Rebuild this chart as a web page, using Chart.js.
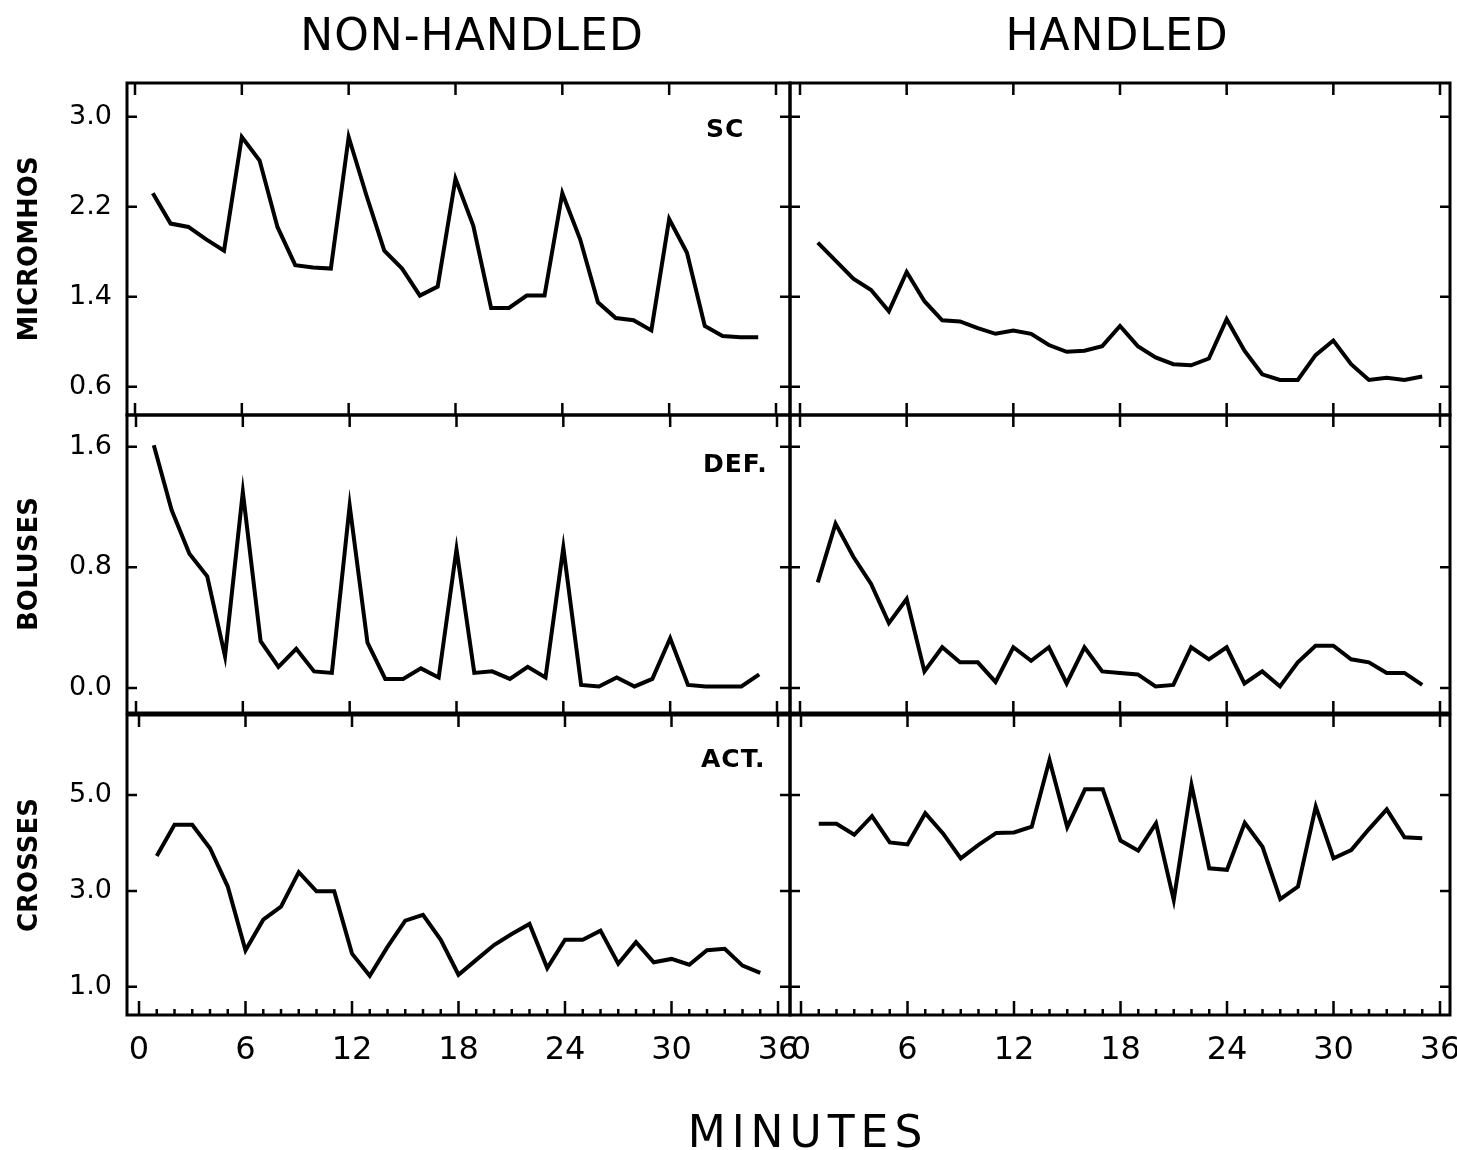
<!DOCTYPE html>
<html>
<head>
<meta charset="utf-8">
<script src="https://cdn.jsdelivr.net/npm/chart.js@4.4.1/dist/chart.umd.min.js"></script>
<style>
  body { margin: 0; background: #fff; }
  #page { position: relative; width: 1457px; height: 1150px; overflow: hidden; font-family: "DejaVu Sans", sans-serif; color: #000; }
  canvas { position: absolute; left: 0; top: 0; }
  .head { position: absolute; font-size: 44px; line-height: 1; white-space: nowrap; transform: translateX(-50%); letter-spacing: 1px; }
  .tag { position: absolute; font-size: 25px; line-height: 1; font-weight: bold; letter-spacing: 1px; }
</style>
</head>
<body>
<div id="page">
  <div class="head" style="left:472px; top:13px;">NON-HANDLED</div>
  <div class="head" style="left:1117px; top:13px;">HANDLED</div>
  <div class="head" style="left:808px; top:1110px; letter-spacing:6px;">MINUTES</div>
  <div class="tag" style="left:706px; top:116px;">SC</div>
  <div class="tag" style="left:703px; top:451px;">DEF.</div>
  <div class="tag" style="left:701px; top:746px;">ACT.</div>
</div>
<script>
// minutes 1..35
const minutes = [1,2,3,4,5,6,7,8,9,10,11,12,13,14,15,16,17,18,19,20,21,22,23,24,25,26,27,28,29,30,31,32,33,34,35];
const xTickLabels = [0, 6, 12, 18, 24, 30, 36];

// skin conductance (micromhos)
const scNonHandled = [2.32,2.05,2.02,1.91,1.81,2.82,2.61,2.02,1.68,1.66,1.65,2.82,2.30,1.81,1.65,1.41,1.49,2.45,2.03,1.30,1.30,1.41,1.41,2.32,1.91,1.35,1.21,1.19,1.10,2.09,1.79,1.14,1.05,1.04,1.04];
const scHandled    = [1.88,1.72,1.56,1.46,1.27,1.62,1.36,1.19,1.18,1.12,1.07,1.10,1.07,0.97,0.91,0.92,0.96,1.14,0.96,0.86,0.80,0.79,0.85,1.20,0.92,0.71,0.66,0.66,0.88,1.01,0.80,0.66,0.68,0.66,0.69];
const scTicks = [0.6, 1.4, 2.2, 3.0];

// defecation (boluses)
const defNonHandled = [1.61,1.18,0.89,0.74,0.21,1.30,0.31,0.14,0.26,0.11,0.10,1.21,0.30,0.06,0.06,0.13,0.07,0.92,0.10,0.11,0.06,0.14,0.07,0.93,0.02,0.01,0.07,0.01,0.06,0.33,0.02,0.01,0.01,0.01,0.09];
const defHandled    = [0.70,1.09,0.87,0.69,0.43,0.59,0.11,0.27,0.17,0.17,0.04,0.27,0.18,0.27,0.03,0.27,0.11,0.10,0.09,0.01,0.02,0.27,0.19,0.27,0.03,0.11,0.01,0.17,0.28,0.28,0.19,0.17,0.10,0.10,0.02];
const defTicks = [0.0, 0.8, 1.6];

// activity (crosses)
const actNonHandled = [3.73,4.38,4.38,3.89,3.09,1.76,2.40,2.67,3.39,2.99,2.99,1.69,1.23,1.83,2.38,2.50,1.98,1.25,1.56,1.87,2.10,2.31,1.39,1.98,1.98,2.17,1.48,1.93,1.51,1.58,1.46,1.76,1.79,1.44,1.29];
const actHandled    = [4.40,4.40,4.17,4.56,4.01,3.97,4.62,4.20,3.68,3.96,4.21,4.22,4.34,5.73,4.33,5.12,5.12,4.05,3.84,4.41,2.81,5.21,3.47,3.44,4.42,3.92,2.83,3.09,4.76,3.68,3.85,4.29,4.70,4.12,4.10];
const actTicks = [1.0, 3.0, 5.0];

const W = 1457, H = 1150;
const page = document.getElementById('page');
const font = '"DejaVu Sans", sans-serif';

// inward ticks + frame on every side of a panel
const framePlugin = {
  id: 'frame',
  afterDatasetsDraw(chart, args, opts) {
    const { ctx, chartArea: a, scales: { x, y } } = chart;
    ctx.save();
    ctx.strokeStyle = '#000';
    ctx.lineWidth = 3;
    ctx.strokeRect(a.left, a.top, a.right - a.left, a.bottom - a.top);
    ctx.lineWidth = 2.5;
    ctx.beginPath();
    xTickLabels.forEach(v => {
      const px = x.getPixelForValue(v);
      ctx.moveTo(px, a.top); ctx.lineTo(px, a.top + 12);
      ctx.moveTo(px, a.bottom); ctx.lineTo(px, a.bottom - (opts.minor ? 14 : 12));
    });
    if (opts.minor) {
      minutes.filter(m => !xTickLabels.includes(m)).forEach(v => {
        const px = x.getPixelForValue(v);
        ctx.moveTo(px, a.bottom); ctx.lineTo(px, a.bottom - 6);
      });
    }
    opts.yTicks.forEach(v => {
      const py = y.getPixelForValue(v);
      ctx.moveTo(a.left, py); ctx.lineTo(a.left + 10, py);
      ctx.moveTo(a.right, py); ctx.lineTo(a.right - 10, py);
    });
    ctx.stroke();
    ctx.restore();
  }
};

function panel(values, p) {
  const canvas = document.createElement('canvas');
  canvas.width = W; canvas.height = H;
  canvas.style.width = W + 'px'; canvas.style.height = H + 'px';
  page.insertBefore(canvas, page.firstChild);
  const ppu = (p.x36 - p.x0) / 36;
  const yW = p.title ? p.L : 0;
  const xH = p.xLabels ? 70 : 0;
  new Chart(canvas, {
    type: 'line',
    data: {
      datasets: [{
        data: minutes.map((m, i) => ({ x: m, y: values[i] })),
        borderColor: '#000',
        borderWidth: 4,
        pointRadius: 0,
        tension: 0,
        fill: false
      }]
    },
    options: {
      responsive: false,
      animation: false,
      events: [],
      layout: { padding: { left: p.L - yW, top: p.T, right: W - p.R, bottom: H - p.B - xH } },
      plugins: {
        legend: { display: false },
        tooltip: { enabled: false },
        frame: { yTicks: p.yTicks, minor: p.xLabels }
      },
      scales: {
        x: {
          type: 'linear',
          min: -(p.x0 - p.L) / ppu,
          max: 36 + (p.R - p.x36) / ppu,
          afterBuildTicks: s => { s.ticks = xTickLabels.map(v => ({ value: v })); },
          afterFit: s => { s.height = xH; s.paddingLeft = 0; s.paddingRight = 0; },
          grid: { display: false, drawTicks: false },
          border: { display: false },
          ticks: { display: p.xLabels, padding: 16, color: '#000', maxRotation: 0, autoSkip: false, font: { family: font, size: 32 } }
        },
        y: {
          type: 'linear',
          min: p.ymin,
          max: p.ymax,
          afterBuildTicks: s => { s.ticks = p.yTicks.map(v => ({ value: v })); },
          afterFit: s => { s.width = yW; s.paddingTop = 0; s.paddingBottom = 0; },
          grid: { display: false, drawTicks: false },
          border: { display: false },
          title: { display: !!p.title, text: p.title || '', color: '#000', padding: { top: 15, bottom: 0 }, font: { family: font, size: 26, weight: 'bold' } },
          ticks: { display: !!p.title, padding: 15, color: '#000', font: { family: font, size: 27 }, callback: v => v.toFixed(1) }
        }
      }
    },
    plugins: [framePlugin]
  });
}

const rows = [
  { T: 83,  B: 415,  ymin: 0.348,  ymax: 3.30, yTicks: scTicks,  title: 'MICROMHOS', left: scNonHandled,  right: scHandled,  lx0: 135, lx36: 776, rx0: 800, rx36: 1440 },
  { T: 415, B: 713,  ymin: -0.166, ymax: 1.81, yTicks: defTicks, title: 'BOLUSES',   left: defNonHandled, right: defHandled, lx0: 136, lx36: 777, rx0: 800, rx36: 1440 },
  { T: 715, B: 1015, ymin: 0.41,   ymax: 6.67, yTicks: actTicks, title: 'CROSSES',   left: actNonHandled, right: actHandled, lx0: 139, lx36: 778, rx0: 801, rx36: 1440 }
];

rows.forEach((r, i) => {
  const bottom = i === rows.length - 1;
  panel(r.left,  { L: 127, R: 790,  T: r.T, B: r.B, ymin: r.ymin, ymax: r.ymax, yTicks: r.yTicks, title: r.title, xLabels: bottom, x0: r.lx0, x36: r.lx36 });
  panel(r.right, { L: 790, R: 1450, T: r.T, B: r.B, ymin: r.ymin, ymax: r.ymax, yTicks: r.yTicks, title: null,    xLabels: bottom, x0: r.rx0, x36: r.rx36 });
});
</script>
</body>
</html>
